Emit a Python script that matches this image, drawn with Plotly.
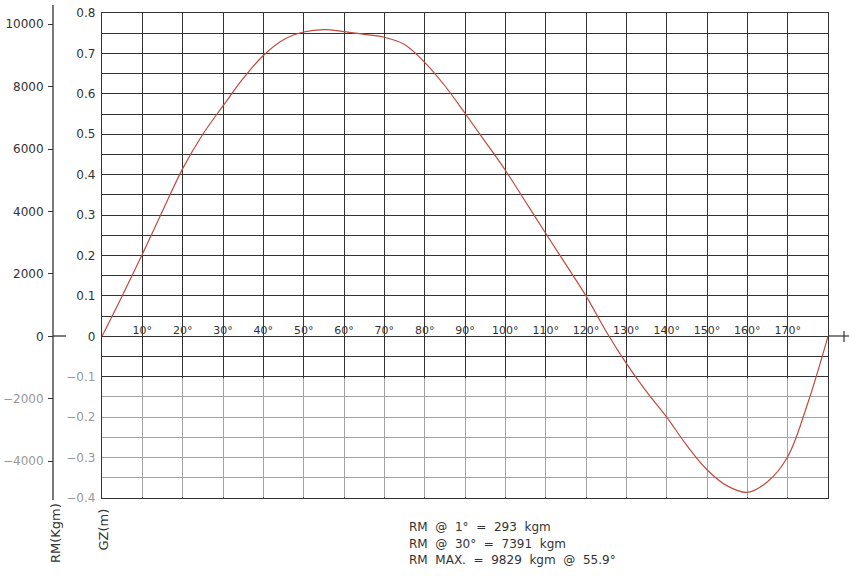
import plotly.graph_objects as go

# ---- data ----
heel_deg = [0, 5, 10, 15, 20, 25, 30, 35, 40, 45, 50, 55, 60, 65, 70, 75, 80, 85,
            90, 95, 100, 105, 110, 115, 120, 125, 130, 135, 140, 145, 150, 155, 160,
            165, 170, 175, 180]
gz_m = [0.0, 0.100, 0.203, 0.310, 0.415, 0.500, 0.570, 0.638, 0.695, 0.734, 0.753, 0.759,
        0.754, 0.747, 0.740, 0.722, 0.678, 0.620,
        0.552, 0.482, 0.411, 0.333, 0.255, 0.178, 0.100, 0.012, -0.067, -0.137, -0.200,
        -0.270, -0.330, -0.370, -0.386, -0.360, -0.298, -0.165, 0.0]

gz_ticks = [-0.4, -0.3, -0.2, -0.1, 0.0, 0.1, 0.2, 0.3, 0.4, 0.5, 0.6, 0.7, 0.8]
rm_ticks = [-4000, -2000, 0, 2000, 4000, 6000, 8000, 10000]
deg_ticks = [10, 20, 30, 40, 50, 60, 70, 80, 90, 100, 110, 120, 130, 140, 150, 160, 170]
notes = ["RM  @  1°  =  293  kgm",
         "RM  @  30°  =  7391  kgm",
         "RM  MAX.  =  9829  kgm  @  55.9°"]

# ---- layout geometry ----
FW, FH = 849, 576
L, R, T, B = 40, 21, 13, 78
W, H = FW - L - R, FH - T - B
GZ_MIN, GZ_MAX = -0.4, 0.8
RM_PER_GZ = 12949.0


def px(x):
    return (x - L) / W


def py(y):
    return (FH - B - y) / H


FONT = "DejaVu Sans"
DARK = "#333333"
GRAY = "#9a9a9a"


def fmt_gz(v):
    s = f"{abs(v):.1f}" if v != 0 else "0"
    if v < 0:
        return f"<span style='color:{GRAY}'>\u2212{s}</span>"
    return s


def fmt_rm(v):
    if v < 0:
        return f"<span style='color:{GRAY}'>\u2212{abs(v)}</span>"
    return str(v)


fig = go.Figure()
fig.add_trace(go.Scatter(x=heel_deg, y=gz_m, mode="lines",
                         line=dict(color="#c04a3f", width=1.2, shape="spline", smoothing=1.0),
                         hoverinfo="skip", showlegend=False))
# invisible trace for the RM axis
fig.add_trace(go.Scatter(x=[None], y=[None], yaxis="y2", showlegend=False, hoverinfo="skip"))
# invisible trace for degree labels axis
fig.add_trace(go.Scatter(x=[None], y=[None], xaxis="x2", showlegend=False, hoverinfo="skip"))

x0dom = px(102)
fig.update_layout(
    width=FW, height=FH,
    margin=dict(l=L, r=R, t=T, b=B, pad=0, autoexpand=False),
    paper_bgcolor="white", plot_bgcolor="white",
    font=dict(family=FONT, size=12, color=DARK),
    showlegend=False,
    xaxis=dict(domain=[x0dom, 1], range=[0, 180], tickvals=list(range(0, 181, 10)),
               showticklabels=False, ticks="", showgrid=True, gridcolor=DARK, gridwidth=1.2,
               showline=True, linecolor=DARK, linewidth=1.3, mirror=True, zeroline=False,
               automargin=False),
    xaxis2=dict(overlaying="x", anchor="free", position=py(336), side="top",
                range=[0, 180], tickvals=deg_ticks, ticktext=[f"{d}°" for d in deg_ticks],
                showgrid=False, showline=False, ticks="", zeroline=False, automargin=False,
                tickfont=dict(family=FONT, size=11, color=DARK), ticklabelstandoff=0),
    yaxis=dict(range=[GZ_MIN, GZ_MAX], tickvals=gz_ticks, ticktext=[fmt_gz(v) for v in gz_ticks],
               showgrid=True, gridcolor=DARK, gridwidth=1.2,
               minor=dict(dtick=0.05, showgrid=True, gridcolor=DARK, gridwidth=1.2),
               ticks="", showline=True, linecolor=DARK, linewidth=1.3, mirror=True,
               zeroline=True, zerolinecolor=DARK, zerolinewidth=1.3, automargin=False,
               tickfont=dict(family=FONT, size=12, color=DARK), ticklabelstandoff=3),
    yaxis2=dict(overlaying="y", anchor="free", position=px(53), side="left",
                range=[GZ_MIN * RM_PER_GZ, GZ_MAX * RM_PER_GZ],
                tickvals=rm_ticks, ticktext=[fmt_rm(v) for v in rm_ticks],
                showgrid=False, zeroline=False, showline=False, automargin=False,
                ticks="outside", ticklen=5, tickcolor=DARK, tickwidth=1,
                tickfont=dict(family=FONT, size=12, color=DARK), ticklabelstandoff=2),
)

shapes = []
# lighten the lower part of the grid
shapes.append(dict(type="rect", xref="x", yref="y", x0=0, x1=180, y0=-0.398, y1=-0.104,
                   fillcolor="rgba(255,255,255,0.55)", line=dict(width=0), layer="between"))
# RM axis line (extends slightly past the plot)
shapes.append(dict(type="line", xref="paper", yref="paper", x0=px(53), x1=px(53),
                   y0=py(500), y1=py(5), line=dict(color=DARK, width=1.3)))
# RM zero tick
shapes.append(dict(type="line", xref="paper", yref="paper", x0=px(53), x1=px(66),
                   y0=py(336), y1=py(336), line=dict(color=DARK, width=1.3)))
# zero-line extension on the right with end tick
shapes.append(dict(type="line", xref="paper", yref="paper", x0=1, x1=px(849),
                   y0=py(336), y1=py(336), line=dict(color=DARK, width=1.2)))
shapes.append(dict(type="line", xref="paper", yref="paper", x0=px(844), x1=px(844),
                   y0=py(331), y1=py(342), line=dict(color=DARK, width=1.2)))
fig.update_layout(shapes=shapes)

ann = []
ann.append(dict(x=px(55), y=py(533), xref="paper", yref="paper", text="RM(Kgm)",
                textangle=-90, showarrow=False, font=dict(family=FONT, size=13, color=DARK),
                xanchor="center", yanchor="middle"))
ann.append(dict(x=px(102.5), y=py(530), xref="paper", yref="paper", text="GZ(m)",
                textangle=-90, showarrow=False, font=dict(family=FONT, size=13, color=DARK),
                xanchor="center", yanchor="middle"))
for i, t in enumerate(notes):
    ann.append(dict(x=px(407), y=py(527 + 16.5 * i), xref="paper", yref="paper",
                    text=t.replace(" ", "\u00a0"), showarrow=False,
                    font=dict(family=FONT, size=12, color=DARK),
                    xanchor="left", yanchor="middle", align="left"))
fig.update_layout(annotations=ann)

fig.write_html("out.html", config={"displayModeBar": False},
               post_script="document.body.style.margin='0px';document.body.style.overflow='hidden';")
